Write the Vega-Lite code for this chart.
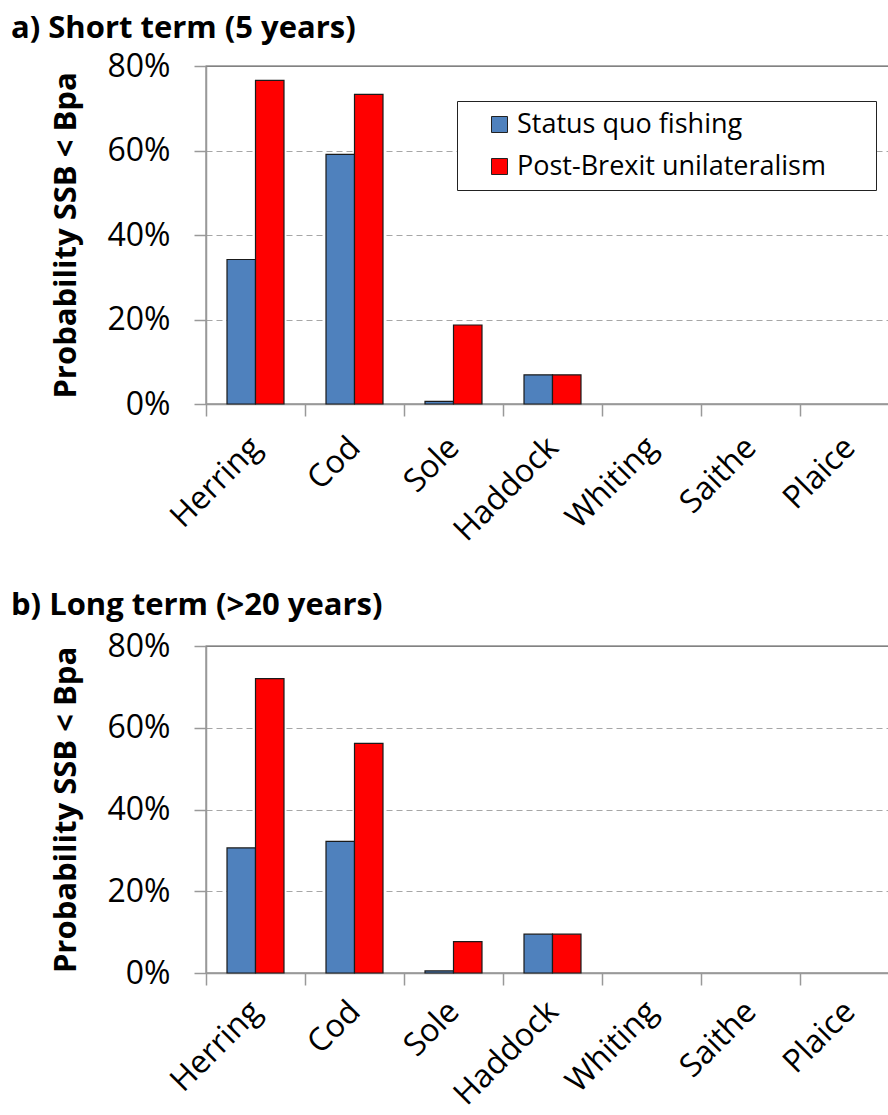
{
  "$schema": "https://vega.github.io/schema/vega-lite/v6.json",
  "background": "white",
  "padding": {"left": 10, "top": 12, "right": 0, "bottom": 0},
  "config": {
    "font": "Open Sans",
    "view": {"stroke": "#595959", "strokeWidth": 1.3},
    "title": {"anchor": "start", "frame": "bounds", "fontSize": 31, "fontWeight": "bold", "color": "black", "font": "Open Sans"},
    "concat": {"spacing": 41},
    "axisX": {
      "tickBand": "extent", "tickSize": 12, "tickColor": "#999999", "domainColor": "#999999", "domainWidth": 1.5, "tickWidth": 1.5,
      "labelAngle": -45, "labelAlign": "right", "labelBaseline": "middle", "labelFontSize": 32, "labelColor": "black", "labelPadding": 26, "grid": false
    },
    "axisY": {
      "tickSize": 12, "tickColor": "#999999", "domainColor": "#999999", "domainWidth": 1.5, "tickWidth": 1.5,
      "labelFontSize": 32, "labelColor": "black", "labelPadding": 24,
      "gridColor": "#a6a6a6", "gridDash": [6, 4], "gridWidth": 1.2,
      "titleFontSize": 31, "titleFontWeight": "bold", "titleColor": "black", "titlePadding": 24
    }
  },
  "datasets": {
    "short": [
      {"species": "Herring", "scenario": "Status quo fishing", "p": 0.342},
      {"species": "Herring", "scenario": "Post-Brexit unilateralism", "p": 0.766},
      {"species": "Cod", "scenario": "Status quo fishing", "p": 0.591},
      {"species": "Cod", "scenario": "Post-Brexit unilateralism", "p": 0.733},
      {"species": "Sole", "scenario": "Status quo fishing", "p": 0.006},
      {"species": "Sole", "scenario": "Post-Brexit unilateralism", "p": 0.187},
      {"species": "Haddock", "scenario": "Status quo fishing", "p": 0.069},
      {"species": "Haddock", "scenario": "Post-Brexit unilateralism", "p": 0.069},
      {"species": "Whiting", "scenario": "Status quo fishing", "p": 0},
      {"species": "Whiting", "scenario": "Post-Brexit unilateralism", "p": 0},
      {"species": "Saithe", "scenario": "Status quo fishing", "p": 0},
      {"species": "Saithe", "scenario": "Post-Brexit unilateralism", "p": 0},
      {"species": "Plaice", "scenario": "Status quo fishing", "p": 0},
      {"species": "Plaice", "scenario": "Post-Brexit unilateralism", "p": 0}
    ],
    "long": [
      {"species": "Herring", "scenario": "Status quo fishing", "p": 0.306},
      {"species": "Herring", "scenario": "Post-Brexit unilateralism", "p": 0.72},
      {"species": "Cod", "scenario": "Status quo fishing", "p": 0.322},
      {"species": "Cod", "scenario": "Post-Brexit unilateralism", "p": 0.562},
      {"species": "Sole", "scenario": "Status quo fishing", "p": 0.005},
      {"species": "Sole", "scenario": "Post-Brexit unilateralism", "p": 0.077},
      {"species": "Haddock", "scenario": "Status quo fishing", "p": 0.095},
      {"species": "Haddock", "scenario": "Post-Brexit unilateralism", "p": 0.095},
      {"species": "Whiting", "scenario": "Status quo fishing", "p": 0},
      {"species": "Whiting", "scenario": "Post-Brexit unilateralism", "p": 0},
      {"species": "Saithe", "scenario": "Status quo fishing", "p": 0},
      {"species": "Saithe", "scenario": "Post-Brexit unilateralism", "p": 0},
      {"species": "Plaice", "scenario": "Status quo fishing", "p": 0},
      {"species": "Plaice", "scenario": "Post-Brexit unilateralism", "p": 0}
    ]
  },
  "resolve": {"scale": {"color": "independent"}, "legend": {"color": "independent"}},
  "vconcat": [
    {
      "title": {"text": "a) Short term (5 years)", "dx": -40, "offset": 5},
      "width": 693,
      "height": 338,
      "data": {"name": "short"},
      "mark": {"type": "bar", "stroke": "#1a1a1a"},
      "encoding": {
        "x": {"field": "species", "type": "nominal", "title": null,
              "sort": ["Herring", "Cod", "Sole", "Haddock", "Whiting", "Saithe", "Plaice"],
              "scale": {"paddingInner": 0, "paddingOuter": 0}},
        "xOffset": {"field": "scenario", "type": "nominal",
              "sort": ["Status quo fishing", "Post-Brexit unilateralism"],
              "scale": {"paddingInner": 0, "paddingOuter": 0.737}},
        "y": {"field": "p", "type": "quantitative", "title": "Probability SSB < Bpa",
              "scale": {"domain": [0, 0.8]},
              "axis": {"values": [0, 0.2, 0.4, 0.6, 0.8], "format": ".0%",
                       "gridOpacity": {"condition": {"test": "datum.value >= 0.8", "value": 0}, "value": 1}}},
        "color": {"field": "scenario", "type": "nominal",
              "scale": {"domain": ["Status quo fishing", "Post-Brexit unilateralism"], "range": ["#4f81bd", "#ff0000"]},
              "legend": {"orient": "none", "legendX": 251, "legendY": 35, "title": null,
                         "symbolType": "square", "symbolSize": 256, "symbolStrokeColor": "#222222", "symbolStrokeWidth": 1,
                         "symbolOffset": 19,
                         "labelFontSize": 27, "labelColor": "black", "labelOffset": 4,
                         "labelExpr": "datum.label + '\u2800\u2800'",
                         "strokeColor": "#222222", "fillColor": "white", "padding": 10, "rowPadding": 14, "labelLimit": 500}},
        "strokeWidth": {"condition": {"test": "datum.p == 0", "value": 0}, "value": 1.2}
      }
    },
    {
      "title": {"text": "b) Long term (>20 years)", "dx": -40, "offset": 8},
      "width": 693,
      "height": 327,
      "data": {"name": "long"},
      "mark": {"type": "bar", "stroke": "#1a1a1a"},
      "encoding": {
        "x": {"field": "species", "type": "nominal", "title": null,
              "sort": ["Herring", "Cod", "Sole", "Haddock", "Whiting", "Saithe", "Plaice"],
              "scale": {"paddingInner": 0, "paddingOuter": 0},
              "axis": {"labelPadding": 21}},
        "xOffset": {"field": "scenario", "type": "nominal",
              "sort": ["Status quo fishing", "Post-Brexit unilateralism"],
              "scale": {"paddingInner": 0, "paddingOuter": 0.737}},
        "y": {"field": "p", "type": "quantitative", "title": "Probability SSB < Bpa",
              "scale": {"domain": [0, 0.8]},
              "axis": {"values": [0, 0.2, 0.4, 0.6, 0.8], "format": ".0%",
                       "gridOpacity": {"condition": {"test": "datum.value >= 0.8", "value": 0}, "value": 1}}},
        "color": {"field": "scenario", "type": "nominal",
              "scale": {"domain": ["Status quo fishing", "Post-Brexit unilateralism"], "range": ["#4f81bd", "#ff0000"]},
              "legend": null},
        "strokeWidth": {"condition": {"test": "datum.p == 0", "value": 0}, "value": 1.2}
      }
    }
  ]
}
